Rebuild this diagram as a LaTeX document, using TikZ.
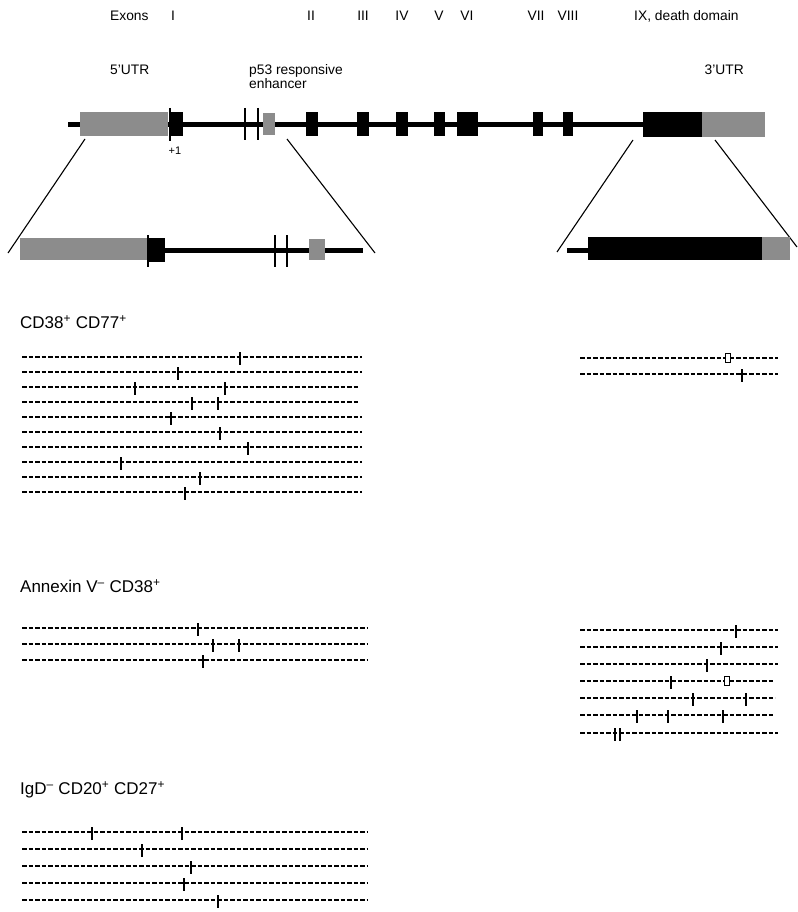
\documentclass[tikz,border=0pt]{standalone}
\usepackage{fontspec}
\setmainfont{Liberation Sans}
\begin{document}
\begin{tikzpicture}[x=1pt,y=-1pt,
  lbl/.style={inner sep=0pt,font=\fontsize{13.8}{15}\selectfont},
  head/.style={inner sep=0pt,anchor=west,font=\fontsize{17}{19}\selectfont},
  gline/.style={line width=5pt},
  exon/.style={fill=black,draw=none},
  utr/.style={fill=black!45,draw=none},
  tick/.style={line width=1.1pt},
  zoomln/.style={line width=1.1pt},
  seq/.style={line width=1.4pt,dash pattern=on 4.6pt off 1.9pt},
  mut/.style={line width=1.8pt},
  mutbox/.style={line width=1pt,draw=black,fill=white}]
\useasboundingbox (0,0) rectangle (797,912);

\newcommand{\dnarow}[4]{%
  \draw[seq] (#2,#1) -- (#3,#1);
  \foreach \b in {#4} {\draw[mut] (\b,#1-5) -- (\b,#1+8);}%
}
\newcommand{\dnabox}[2]{\draw[mutbox] (#2-2.2,#1-5) rectangle (#2+2.2,#1+4);}

% ---------- top labels ----------
\node[lbl,anchor=west] (exons) at (110,16) {Exons};
\node[lbl] (eI) at (173,16) {I};
\node[lbl] (eII) at (311,16) {II};
\node[lbl] (eIII) at (363,16) {III};
\node[lbl] (eIV) at (402,16) {IV};
\node[lbl] (eV) at (439,16) {V};
\node[lbl] (eVI) at (467,16) {VI};
\node[lbl] (eVII) at (536,16) {VII};
\node[lbl] (eVIII) at (568,16) {VIII};
\node[lbl,anchor=west] (eIX) at (634,16) {IX, death domain};
\node[lbl,anchor=west] (utr5) at (110,70) {5'UTR};
\node[lbl,anchor=north west,align=left,font=\fontsize{13.8}{14}\selectfont] (p53) at (249,64) {p53 responsive\\enhancer};
\node[lbl,anchor=east] (utr3) at (744,70) {3'UTR};

% ---------- gene overview ----------
\draw[gline] (68,125) -- (643,125);
\fill[utr] (80,112) rectangle (168,136);
\fill[exon] (170,112) rectangle (183,136);
\draw[tick] (170,108) -- (170,141);
\node[inner sep=0pt,font=\fontsize{11}{12}\selectfont] (plus1) at (175,151) {+1};
\draw[tick] (245,108) -- (245,140);
\draw[tick] (258,108) -- (258,140);
\fill[utr] (263,113) rectangle (275,135);
\fill[exon] (306,112) rectangle (318,136);
\fill[exon] (357,112) rectangle (369,136);
\fill[exon] (396,112) rectangle (408,136);
\fill[exon] (434,112) rectangle (445,136);
\fill[exon] (457,112) rectangle (478,136);
\fill[exon] (533,112) rectangle (543,136);
\fill[exon] (563,112) rectangle (573,136);
\fill[exon] (643,112) rectangle (702,137);
\fill[utr] (702,112) rectangle (765,137);

% ---------- zoom lines ----------
\coordinate (zl1) at (85,139);  \coordinate (zl2) at (8,253);
\coordinate (zr1) at (287,139); \coordinate (zr2) at (375,253);
\coordinate (yl1) at (633,140); \coordinate (yl2) at (557,252);
\coordinate (yr1) at (715,140); \coordinate (yr2) at (797,247);
\draw[zoomln] (zl1) -- (zl2);
\draw[zoomln] (zr1) -- (zr2);
\draw[zoomln] (yl1) -- (yl2);
\draw[zoomln] (yr1) -- (yr2);

% ---------- expanded 5' region ----------
\draw[gline] (160,250) -- (363,250);
\fill[utr] (20,238) rectangle (148,260);
\fill[exon] (148,238) rectangle (165,262);
\draw[tick] (148,235) -- (148,267);
\draw[tick] (275,235) -- (275,267);
\draw[tick] (287,235) -- (287,267);
\fill[utr] (309,239) rectangle (325,260);

% ---------- expanded 3' region ----------
\draw[gline] (567,250) -- (590,250);
\fill[exon] (588,237) rectangle (762,260);
\fill[utr] (762,237) rectangle (790,260);

% ---------- CD38+ CD77+ ----------
\node[head] (h1) at (20,322) {CD38\textsuperscript{+} CD77\textsuperscript{+}};
\dnarow{357}{22}{362}{240}
\dnarow{372}{22}{362}{178}
\dnarow{387}{22}{358}{135,225}
\dnarow{402}{22}{358}{192,218}
\dnarow{417}{22}{362}{171}
\dnarow{432}{22}{362}{220}
\dnarow{447}{22}{362}{248}
\dnarow{462}{22}{362}{121}
\dnarow{477}{22}{362}{200}
\dnarow{492}{22}{362}{185}

\dnarow{358}{580}{778}{}
\dnabox{358}{728}
\dnarow{374}{580}{778}{742}

% ---------- Annexin V- CD38+ ----------
\node[head] (h2) at (20,586) {Annexin V\textsuperscript{–} CD38\textsuperscript{+}};
\dnarow{628}{22}{368}{198}
\dnarow{644}{22}{368}{213,239}
\dnarow{660}{22}{368}{203}

\dnarow{630}{580}{778}{736}
\dnarow{647}{580}{778}{721}
\dnarow{664}{580}{778}{707}
\dnarow{681}{580}{773}{671}
\dnabox{681}{727}
\dnarow{698}{580}{775}{693,746}
\dnarow{715}{580}{773}{637,668,723}
\dnarow{733}{580}{778}{615,620}

% ---------- IgD- CD20+ CD27+ ----------
\node[head] (h3) at (20,790) {IgD\textsuperscript{–} CD20\textsuperscript{+} CD27\textsuperscript{+}};
\dnarow{832}{22}{367}{92,182}
\dnarow{849}{22}{367}{142}
\dnarow{866}{22}{367}{191}
\dnarow{883}{22}{367}{184}
\dnarow{900}{22}{367}{218}
\end{tikzpicture}
\end{document}
